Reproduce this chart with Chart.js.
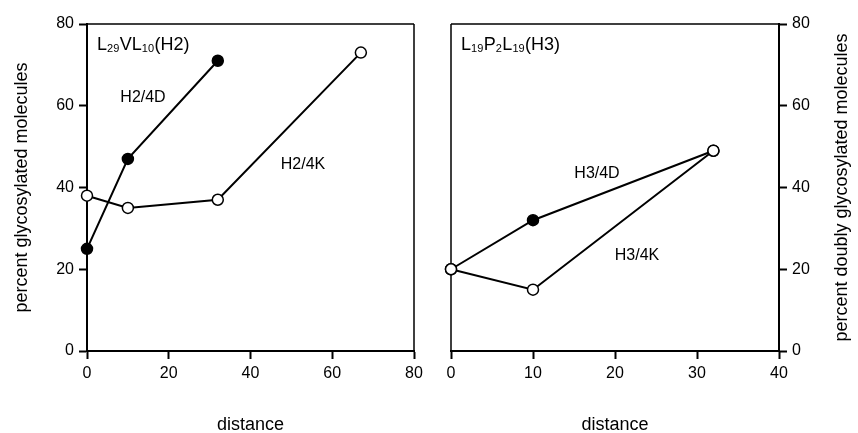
<!DOCTYPE html>
<html>
<head>
<meta charset="utf-8">
<script src="https://cdn.jsdelivr.net/npm/chart.js@4/dist/chart.umd.min.js"></script>
<style>
  html, body { margin: 0; padding: 0; background: #fff; }
  #wrap { position: relative; width: 858px; height: 433px; }
  canvas { position: absolute; top: 0; }
</style>
</head>
<body>
<div id="wrap">
  <canvas id="c1" width="430" height="433" style="left:0px"></canvas>
  <canvas id="c2" width="428" height="433" style="left:430px"></canvas>
</div>
<script>
// ---- data ----
const h2Dist4D = [0, 10, 32];
const h2Pct4D  = [25, 47, 71];
const h2Dist4K = [0, 10, 32, 67];
const h2Pct4K  = [38, 35, 37, 73];

const h3Dist4D = [0, 10, 32];
const h3Pct4D  = [20, 32, 49];
const h3Dist4K = [0, 10, 32];
const h3Pct4K  = [20, 15, 49];

const h2XTicks = [0, 20, 40, 60, 80];
const h3XTicks = [0, 10, 20, 30, 40];
const yTicks   = [0, 20, 40, 60, 80];

const seriesNames = ['H2/4D', 'H2/4K', 'H3/4D', 'H3/4K'];
const yTitleLeft  = 'percent glycosylated molecules';
const yTitleRight = 'percent doubly glycosylated molecules';
const xTitle = 'distance';

const FONT = '"Liberation Sans", Arial, Helvetica, sans-serif';

function pts(xs, ys) { return xs.map((x, i) => ({ x: x, y: ys[i] })); }

function axisX(ticks) {
  return {
    type: 'linear',
    min: ticks[0], max: ticks[ticks.length - 1],
    afterBuildTicks: s => { s.ticks = ticks.map(v => ({ value: v })); },
    afterFit: s => { s.height = 82; },
    grid: { display: true, drawOnChartArea: false, drawTicks: true, tickLength: 8, tickWidth: 2, tickColor: '#000' },
    border: { display: true, color: '#000', width: 2 },
    ticks: { color: '#000', font: { family: FONT, size: 16 }, padding: 5, maxRotation: 0, autoSkip: false }
  };
}
function axisY(pos, width) {
  return {
    type: 'linear', position: pos,
    min: yTicks[0], max: yTicks[yTicks.length - 1],
    afterBuildTicks: s => { s.ticks = yTicks.map(v => ({ value: v })); },
    afterFit: s => { s.width = width; },
    grid: { display: true, drawOnChartArea: false, drawTicks: true, tickLength: 8, tickWidth: 2, tickColor: '#000' },
    border: { display: true, color: '#000', width: 2 },
    ticks: { color: '#000', font: { family: FONT, size: 16 }, padding: 5, autoSkip: false }
  };
}

function drawRich(ctx, parts, x, base) {
  ctx.fillStyle = '#000';
  ctx.textAlign = 'left';
  ctx.textBaseline = 'alphabetic';
  parts.forEach(p => {
    const sub = p[1];
    ctx.font = (sub ? '11px ' : '18px ') + FONT;
    ctx.fillText(p[0], x, base + (sub ? 2 : 0));
    x += ctx.measureText(p[0]).width + (sub ? 0.5 : 0);
  });
}

function decorPlugin(cfg) {
  return {
    id: 'decor',
    beforeDatasetsDraw(chart) {
      const ctx = chart.ctx, a = chart.chartArea;
      ctx.save();
      ctx.strokeStyle = '#000';
      ctx.lineWidth = 1.5;
      ctx.beginPath();
      ctx.moveTo(a.left, a.top); ctx.lineTo(a.right, a.top);
      const sx = cfg.side === 'right' ? a.right : a.left;
      ctx.moveTo(sx, a.top); ctx.lineTo(sx, a.bottom);
      ctx.stroke();
      ctx.restore();
    },
    afterDraw(chart) {
      const ctx = chart.ctx, a = chart.chartArea;
      ctx.save();
      drawRich(ctx, cfg.title, a.left + 10, a.top + 26);
      ctx.font = '16px ' + FONT;
      ctx.fillStyle = '#000';
      ctx.textAlign = 'center';
      ctx.textBaseline = 'middle';
      cfg.labels.forEach(l => ctx.fillText(l.t, l.x, l.y));
      // axis titles
      ctx.font = '18px ' + FONT;
      ctx.fillText(xTitle, (a.left + a.right) / 2, 425);
      ctx.translate(cfg.yTitleX, (a.top + a.bottom) / 2);
      ctx.rotate(-Math.PI / 2);
      ctx.fillText(cfg.yTitle, 0, 0);
      ctx.restore();
    }
  };
}

function lineDs(label, data, fill, order) {
  return {
    label: label, data: data, clip: false,
    borderColor: '#000', borderWidth: 2,
    pointRadius: 5.5, pointBorderWidth: 1.5,
    pointBackgroundColor: fill, pointBorderColor: '#000',
    pointHoverRadius: 5.5, tension: 0, fill: false, order: order
  };
}

const common = {
  responsive: false, animation: false, devicePixelRatio: 1,
  plugins: { legend: { display: false }, tooltip: { enabled: false } },
  events: []
};

new Chart(document.getElementById('c1'), {
  type: 'line',
  data: { datasets: [
    lineDs(seriesNames[0], pts(h2Dist4D, h2Pct4D), '#000', 1),
    lineDs(seriesNames[1], pts(h2Dist4K, h2Pct4K), '#fff', 0)
  ]},
  options: Object.assign({}, common, {
    layout: { padding: { left: 0, right: 16, top: 24, bottom: 0 } },
    scales: { x: axisX(h2XTicks), y: axisY('left', 87) }
  }),
  plugins: [decorPlugin({
    side: 'right',
    title: [['L', 0], ['29', 1], ['VL', 0], ['10', 1], ['(H2)', 0]],
    labels: [{ t: seriesNames[0], x: 143, y: 98 }, { t: seriesNames[1], x: 303, y: 165 }],
    yTitle: yTitleLeft, yTitleX: 22
  })]
});

new Chart(document.getElementById('c2'), {
  type: 'line',
  data: { datasets: [
    lineDs(seriesNames[2], pts(h3Dist4D, h3Pct4D), '#000', 1),
    lineDs(seriesNames[3], pts(h3Dist4K, h3Pct4K), '#fff', 0)
  ]},
  options: Object.assign({}, common, {
    layout: { padding: { left: 21, right: 0, top: 24, bottom: 0 } },
    scales: { x: axisX(h3XTicks), y: axisY('right', 79) }
  }),
  plugins: [decorPlugin({
    side: 'left',
    title: [['L', 0], ['19', 1], ['P', 0], ['2', 1], ['L', 0], ['19', 1], ['(H3)', 0]],
    labels: [{ t: seriesNames[2], x: 597 - 430, y: 174 }, { t: seriesNames[3], x: 637 - 430, y: 256 }],
    yTitle: yTitleRight, yTitleX: 842 - 430
  })]
});
</script>
</body>
</html>
